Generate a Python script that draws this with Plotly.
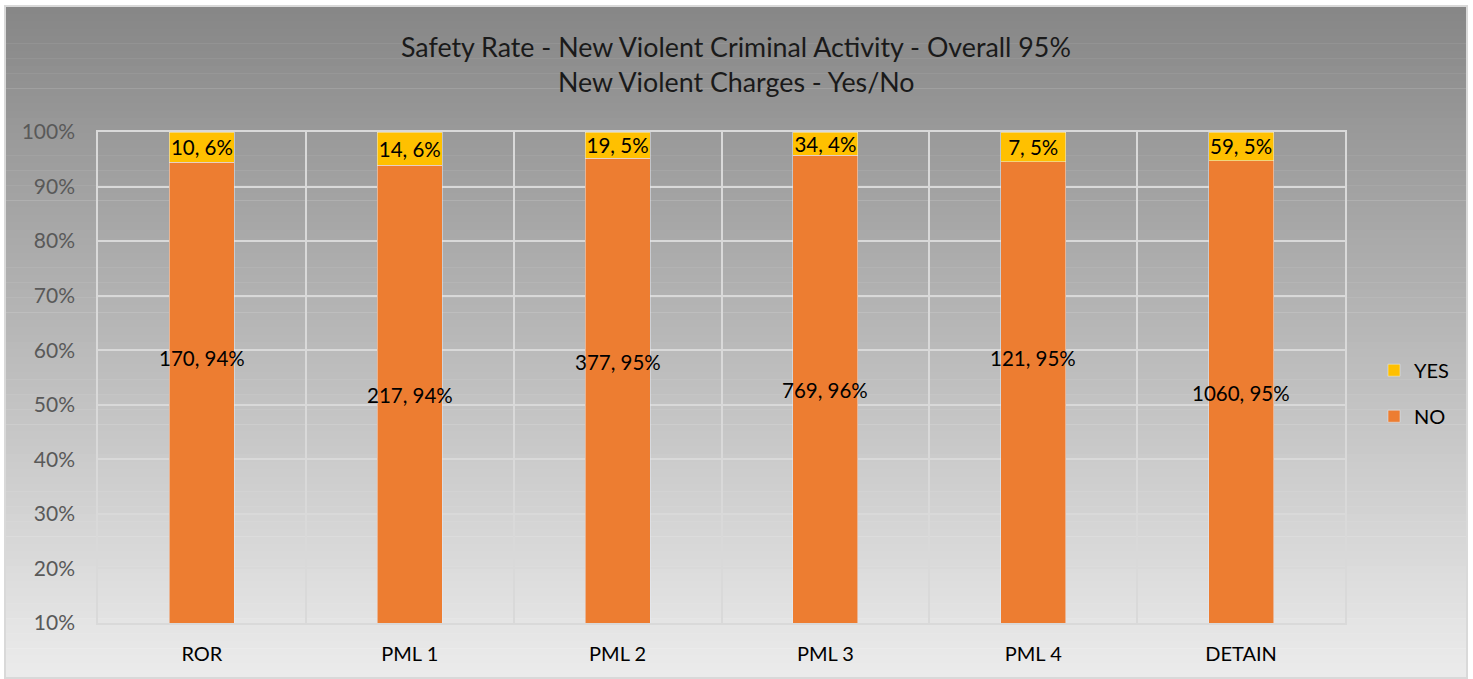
import plotly.graph_objects as go

categories = ["ROR", "PML 1", "PML 2", "PML 3", "PML 4", "DETAIN"]
no_counts = [170, 217, 377, 769, 121, 1060]
yes_counts = [10, 14, 19, 34, 7, 59]
# approximate heights (in % of axis) where the NO labels sit in the reference
no_label_y = [58.6, 51.8, 57.8, 52.7, 58.6, 52.2]

title_lines = ["Safety Rate - New Violent Criminal Activity - Overall 95%",
               "New Violent Charges - Yes/No"]

FONT = "Lato"
totals = [n + y for n, y in zip(no_counts, yes_counts)]
no_text = [f"{n}, {round(100 * n / t)}%" for n, t in zip(no_counts, totals)]
yes_text = [f"{y}, {round(100 * y / t)}%" for y, t in zip(yes_counts, totals)]

fig = go.Figure()
fig.add_trace(go.Bar(x=categories, y=no_counts, name="NO", marker_color="#ED7D31",
                     legendgroup="no", legendrank=2, hoverinfo="skip"))
fig.add_trace(go.Bar(x=categories, y=yes_counts, name="YES", marker_color="#FFC000",
                     legendgroup="yes", legendrank=1, text=yes_text, textposition="inside",
                     insidetextanchor="middle", constraintext="none",
                     textfont=dict(family=FONT, size=20.5, color="#000000"), hoverinfo="skip"))

# plot area geometry in pixels (for background shapes in paper coords)
W, H = 1473, 679
L, R, T, B = 98, 128, 132, 56
pw, ph = W - L - R, H - T - B

def px2x(px):
    return (px - L) / pw

def py2y(py):
    return (H - B - py) / ph

shapes = []
n_bands = 90
top_c, bot_c = 134, 236
y_top, y_bot = 6, 678
for i in range(n_bands):
    a = y_top + (y_bot - y_top) * i / n_bands
    b = y_top + (y_bot - y_top) * (i + 1) / n_bands
    v = round(top_c + (bot_c - top_c) * (i + 0.5) / n_bands)
    col = f"rgb({v},{v},{v})"
    shapes.append(dict(type="rect", xref="paper", yref="paper", layer="below",
                       x0=px2x(5), x1=px2x(1467), y0=py2y(b) - 0.001, y1=py2y(a),
                       fillcolor=col, line=dict(width=0)))
shapes.append(dict(type="rect", xref="paper", yref="paper", layer="above",
                   x0=px2x(5), x1=px2x(1467), y0=py2y(y_bot), y1=py2y(y_top),
                   fillcolor="rgba(0,0,0,0)", line=dict(color="#d9d9d9", width=2)))

annotations = []
for c, txt, yy in zip(categories, no_text, no_label_y):
    annotations.append(dict(x=c, y=yy, xref="x", yref="y", text=txt, showarrow=False,
                            font=dict(family=FONT, size=20.5, color="#000000")))
for k, line in enumerate(title_lines):
    annotations.append(dict(x=px2x(736), xref="paper", y=py2y(47 + 35 * k), yref="paper",
                            text=line, showarrow=False, xanchor="center", yanchor="middle",
                            font=dict(family=FONT, size=26.8, color="#1a1a1a")))

fig.update_layout(
    width=W, height=H,
    margin=dict(l=L, r=R, t=T, b=B),
    barmode="stack", barnorm="percent", bargap=0.687,
    paper_bgcolor="white", plot_bgcolor="rgba(0,0,0,0)",
    shapes=shapes, annotations=annotations,
    legend=dict(x=px2x(1374), xanchor="left", y=0.468, yanchor="middle",
                traceorder="grouped", tracegroupgap=17,
                font=dict(family=FONT, size=20, color="#000000"),
                bgcolor="rgba(0,0,0,0)", itemwidth=30),
    showlegend=True,
)
fig.update_yaxes(range=[10, 100], dtick=10, ticksuffix="%", showgrid=True,
                 gridcolor="#d9d9d9", gridwidth=1.5, zeroline=False,
                 showline=True, linecolor="#d9d9d9", linewidth=1.5, mirror=True,
                 tickfont=dict(family=FONT, size=21, color="#595959"), ticks="",
                 ticklabelstandoff=17)
fig.update_xaxes(tickson="boundaries", showgrid=True, gridcolor="#d9d9d9", gridwidth=1.5,
                 showline=True, linecolor="#d9d9d9", linewidth=1.5, mirror=True, ticks="",
                 tickfont=dict(family=FONT, size=20, color="#000000"), ticklabelstandoff=12)

fig.write_html("out.html", config={"displayModeBar": False},
               post_script="document.body.style.margin='0';document.body.style.padding='0';")
